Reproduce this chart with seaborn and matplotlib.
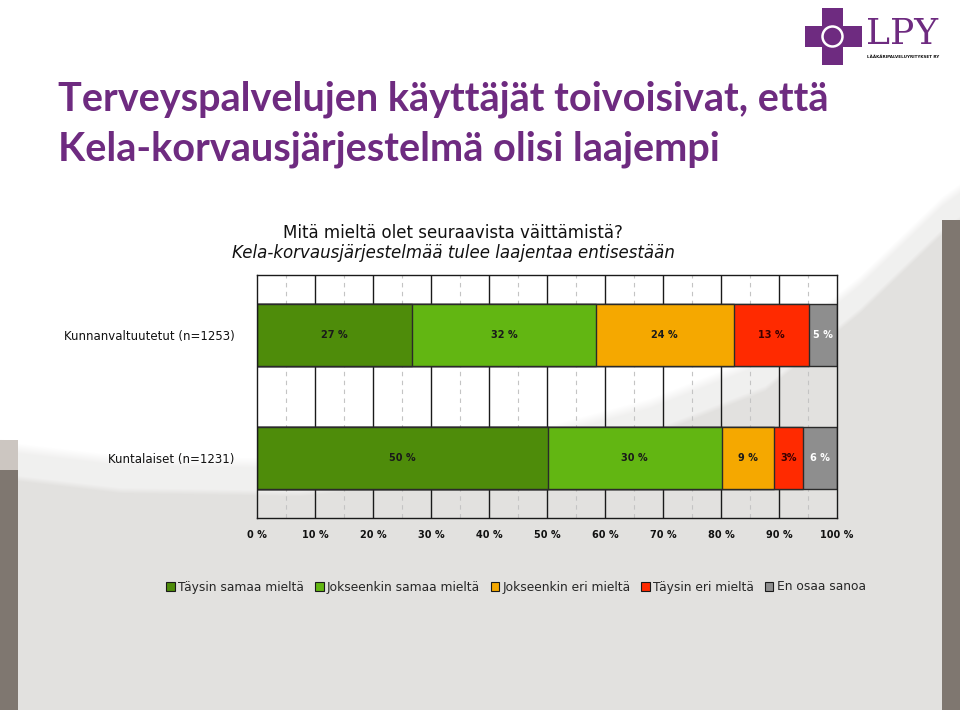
import numpy as np
import pandas as pd
import matplotlib
matplotlib.use("Agg")
import matplotlib.pyplot as plt
import matplotlib.patches as mpatches
import seaborn as sns

# ---- data ----
groups = ["Kunnanvaltuutetut (n=1253)", "Kuntalaiset (n=1231)"]
answers = ["Täysin samaa mieltä", "Jokseenkin samaa mieltä", "Jokseenkin eri mieltä",
           "Täysin eri mieltä", "En osaa sanoa"]
values_valtuutetut = [26.8, 31.6, 23.8, 12.9, 4.9]
values_kuntalaiset = [50.1, 30.0, 9.0, 5.0, 5.9]
labels_valtuutetut = ["27 %", "32 %", "24 %", "13 %", "5 %"]
labels_kuntalaiset = ["50 %", "30 %", "9 %", "3%", "6 %"]
tick_values = [0, 10, 20, 30, 40, 50, 60, 70, 80, 90, 100]
tick_labels = ["0 %", "10 %", "20 %", "30 %", "40 %", "50 %", "60 %", "70 %", "80 %", "90 %", "100 %"]

colors = ["#4E8C0A", "#62B612", "#F5A800", "#FF2A00", "#8E8E8E"]
text_colors = ["#1a1a1a", "#1a1a1a", "#1a1a1a", "#3a0000", "#ffffff"]
purple = "#6E2B80"

rows = []
for g, vals, labs in [(groups[0], values_valtuutetut, labels_valtuutetut),
                      (groups[1], values_kuntalaiset, labels_kuntalaiset)]:
    cum = np.cumsum(vals)
    for a, v, c, l in zip(answers, vals, cum, labs):
        rows.append(dict(group=g, answer=a, value=v, cum=c, label=l))
df = pd.DataFrame(rows)

sns.set_theme(style="white")
plt.rcParams["font.family"] = ["DejaVu Sans"]

W, H = 960, 710
fig = plt.figure(figsize=(W / 100, H / 100), dpi=100)

# ---- background (decorative slide) ----
bg_ax = fig.add_axes([0, 0, 1, 1], zorder=-10)
yy, xx = np.mgrid[0:H, 0:W]
bx = [0, 18, 120, 300, 500, 650, 765, 860, 942, 960]
by = [470, 475, 487, 490, 470, 430, 385, 307, 228, 215]
yb = np.interp(xx[0], bx, by)[None, :]
white = np.array([1.0, 1.0, 1.0])
light = np.array([0.945, 0.943, 0.940])
grey = np.array([0.888, 0.884, 0.876])
t1 = np.clip((yy - (yb - 32)) / 10.0, 0, 1)[..., None]
t2 = np.clip((yy - yb) / 6.0, 0, 1)[..., None]
img = white * (1 - t1) + light * t1
img = img * (1 - t2) + grey * t2
dark = np.array([0.50, 0.47, 0.44])
img[(xx >= 942) & (yy >= 220)] = dark
img[(xx <= 17) & (yy >= 470)] = dark
img[(xx <= 17) & (yy >= 440) & (yy < 470)] = np.array([0.80, 0.78, 0.76])
bg_ax.imshow(img, extent=[0, W, H, 0], aspect="auto")
bg_ax.set_xlim(0, W)
bg_ax.set_ylim(H, 0)
bg_ax.axis("off")

# ---- chart ----
ax = fig.add_axes([257 / W, 1 - 518 / H, (837 - 257) / W, (518 - 275) / H])
ax.set_facecolor("none")

for i in reversed(range(len(answers))):
    sub = df[df["answer"] == answers[i]]
    sns.barplot(data=sub, x="cum", y="group", order=groups, color=colors[i],
                saturation=1, width=0.5, edgecolor="#2a2a2a", linewidth=1.0,
                errorbar=None, ax=ax, zorder=3)

for _, r in df.iterrows():
    i = answers.index(r["answer"])
    yi = groups.index(r["group"])
    ax.text(r["cum"] - r["value"] / 2, yi, r["label"], ha="center", va="center",
            fontsize=7, fontweight="bold", color=text_colors[i], zorder=5)

for v in range(10, 100, 10):
    ax.axvline(v, color="#1a1a1a", lw=1.0, zorder=1)
for v in range(5, 100, 10):
    ax.axvline(v, color="#c4c4c4", lw=0.8, ls=(0, (4, 4)), zorder=1)

ax.set_xlim(0, 100)
ax.set_ylim(1.49, -0.49)
ax.set_xticks(tick_values)
ax.set_xticklabels(tick_labels, fontsize=7, fontweight="bold", color="#111111")
ax.set_yticks(range(len(groups)))
ax.set_yticklabels(groups, fontsize=8.5, color="#111111")
ax.tick_params(axis="x", length=0, pad=9)
ax.tick_params(axis="y", length=0, pad=16)
ax.set_xlabel("")
ax.set_ylabel("")
for s in ax.spines.values():
    s.set_visible(True)
    s.set_color("#1a1a1a")
    s.set_linewidth(1.0)
    s.set_zorder(6)

# ---- legend ----
handles = [mpatches.Patch(facecolor=c, edgecolor="#1a1a1a", linewidth=0.8, label=a)
           for c, a in zip(colors, answers)]
fig.legend(handles=handles, loc="center", bbox_to_anchor=(516 / W, 1 - 587 / H), ncol=5,
           frameon=False, fontsize=8.8, handlelength=0.7, handleheight=0.7,
           handletextpad=0.25, columnspacing=0.9, borderaxespad=0)

# ---- titles ----
fig.text(58 / W, 1 - 111 / H, "Terveyspalvelujen käyttäjät toivoisivat, että",
         fontsize=28.5, fontweight="bold", color=purple, family=["Lato", "DejaVu Sans"],
         ha="left", va="baseline")
fig.text(58 / W, 1 - 160 / H, "Kela-korvausjärjestelmä olisi laajempi",
         fontsize=28.5, fontweight="bold", color=purple, family=["Lato", "DejaVu Sans"],
         ha="left", va="baseline")
fig.text(453 / W, 1 - 238 / H, "Mitä mieltä olet seuraavista väittämistä?",
         fontsize=12, color="#111111", ha="center", va="baseline")
fig.text(453 / W, 1 - 258 / H, "Kela-korvausjärjestelmää tulee laajentaa entisestään",
         fontsize=12, style="italic", color="#111111", ha="center", va="baseline")

# ---- logo ----
lx = fig.add_axes([0, 0, 1, 1], zorder=20)
lx.set_xlim(0, W)
lx.set_ylim(H, 0)
lx.axis("off")
lx.add_patch(mpatches.Rectangle((822, 8), 21, 57, color=purple, lw=0))
lx.add_patch(mpatches.Rectangle((805, 26), 57, 21, color=purple, lw=0))
lx.add_patch(mpatches.Circle((832.5, 36.5), 10, facecolor=purple, edgecolor="white", lw=1.8))
lx.text(866, 44, "LPY", fontsize=26, color=purple, family=["DejaVu Serif"],
        ha="left", va="baseline")
lx.text(867, 58, "LÄÄKÄRIPALVELUYRITYKSET RY", fontsize=3.0, fontweight="bold",
        color="#111111", ha="left", va="baseline")

fig.savefig("out.png", dpi=100)
